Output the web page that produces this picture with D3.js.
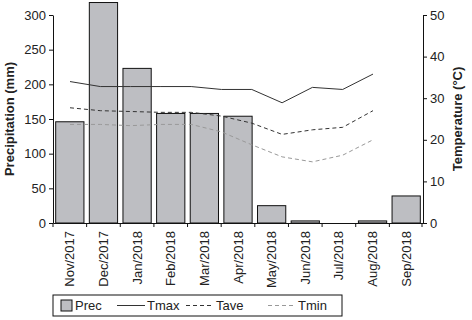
<!DOCTYPE html>
<html>
<head>
<meta charset="utf-8">
<script src="https://cdn.jsdelivr.net/npm/d3@7"></script>
<style>
    body { margin: 0; background: #fff; }
    text { font-family: "Liberation Sans Narrow", "Arial Narrow", "Liberation Sans", sans-serif; fill: #222; }
</style>
</head>
<body>
<div id="chart"></div>
<script>
// chart data
let months = ["Nov/2017", "Dec/2017", "Jan/2018", "Feb/2018", "Mar/2018", "Apr/2018",
    "May/2018", "Jun/2018", "Jul/2018", "Aug/2018", "Sep/2018"];
let prec = [146, 318, 223, 158, 158, 154, 25, 3, 0, 3, 39];
let tmax = [34.0, 32.8, 32.8, 32.8, 32.8, 32.1, 32.1, 28.9, 32.6, 32.1, 35.8];
let tave = [27.7, 27.0, 26.8, 26.6, 26.6, 25.7, 24.0, 21.3, 22.4, 23.0, 27.0];
let tmin = [23.7, 23.7, 23.4, 23.7, 23.7, 21.9, 18.8, 15.9, 14.7, 16.3, 20.0];
let precTicks = [0, 50, 100, 150, 200, 250, 300];
let tempTicks = [0, 10, 20, 30, 40, 50];

let width = 472, height = 320;
let plot = {left: 53, right: 423, top: 15, bottom: 223};

let svg = d3.select("#chart").append("svg")
    .attr("width", width)
    .attr("height", height);

// scales
let x = d3.scaleBand()
    .domain(months)
    .range([plot.left, plot.right])
    .paddingInner(0.16)
    .paddingOuter(0.08);

// temperature lines sit on their own (narrower) point scale
let xT = d3.scalePoint()
    .domain(months)
    .range([plot.left + 17, plot.left + 320]);

let yP = d3.scaleLinear().domain([0, 300]).range([plot.bottom, plot.top]);
let yT = d3.scaleLinear().domain([0, 50]).range([plot.bottom, plot.top]);

// bars
svg.selectAll(".bar")
    .data(months)
    .enter().append("rect")
    .attr("class", "bar")
    .attr("x", d => x(d))
    .attr("width", x.bandwidth())
    .attr("y", (d, i) => yP(prec[i]))
    .attr("height", (d, i) => plot.bottom - yP(prec[i]))
    .attr("fill", "#bdbec2")
    .attr("stroke", "#111")
    .attr("stroke-width", 1);

// lines
let series = [
    {name: "Tmax", values: tmax, color: "#333", dash: null},
    {name: "Tave", values: tave, color: "#333", dash: "4,3"},
    {name: "Tmin", values: tmin, color: "#999", dash: "4,3"}
];

let line = d3.line()
    .x((d, i) => xT(months[i]))
    .y(d => yT(d));

series.forEach(s => {
    svg.append("path")
        .datum(s.values)
        .attr("d", line)
        .attr("fill", "none")
        .attr("stroke", s.color)
        .attr("stroke-width", 1)
        .attr("stroke-dasharray", s.dash);
});

// left axis
let axisL = svg.append("g")
    .attr("transform", `translate(${plot.left},0)`)
    .call(d3.axisLeft(yP).tickValues(precTicks).tickSize(4).tickSizeOuter(0));

// right axis
let axisR = svg.append("g")
    .attr("transform", `translate(${plot.right},0)`)
    .call(d3.axisRight(yT).tickValues(tempTicks).tickSize(4).tickSizeOuter(0));

// bottom axis, labels at centres
let axisB = svg.append("g")
    .attr("transform", `translate(0,${plot.bottom})`)
    .call(d3.axisBottom(x).tickSize(0).tickSizeOuter(0));

axisB.selectAll("text")
    .attr("transform", "rotate(-90)")
    .attr("text-anchor", "end")
    .attr("x", -8)
    .attr("y", 0)
    .attr("dy", "0.35em");

// boundary ticks
let step = x.step();
let bounds = months.map(d => x(d) - x.paddingInner() * step / 2);
bounds.push(plot.right - 1);
svg.selectAll(".btick")
    .data(bounds)
    .enter().append("line")
    .attr("x1", d => d).attr("x2", d => d)
    .attr("y1", plot.bottom).attr("y2", plot.bottom + 4)
    .attr("stroke", "#111");

[axisL, axisR, axisB].forEach(a => {
    a.selectAll("path").attr("stroke", "#111");
    a.selectAll("line").attr("stroke", "#111");
    a.selectAll("text").style("font-size", "13px").attr("fill", "#222");
});

// axis titles
svg.append("text")
    .attr("transform", `translate(14, ${(plot.top + plot.bottom) / 2}) rotate(-90)`)
    .attr("text-anchor", "middle")
    .style("font-size", "13px")
    .style("font-weight", "bold")
    .text("Precipitation (mm)");

svg.append("text")
    .attr("transform", `translate(462, ${(plot.top + plot.bottom) / 2}) rotate(-90)`)
    .attr("text-anchor", "middle")
    .style("font-size", "13px")
    .style("font-weight", "bold")
    .text("Temperature (°C)");

// legend
let legend = svg.append("g").attr("transform", "translate(53,295)");
legend.append("rect")
    .attr("x", 0).attr("y", 0)
    .attr("width", 289).attr("height", 21)
    .attr("fill", "none").attr("stroke", "#111");

legend.append("rect")
    .attr("x", 8).attr("y", 5)
    .attr("width", 11).attr("height", 11)
    .attr("fill", "#bdbec2").attr("stroke", "#111");
legend.append("text").attr("x", 22).attr("y", 15).style("font-size", "13px").text("Prec");

let legX = [64, 133, 215];
series.forEach((s, i) => {
    legend.append("line")
        .attr("x1", legX[i]).attr("x2", legX[i] + 28)
        .attr("y1", 10.5).attr("y2", 10.5)
        .attr("stroke", s.color)
        .attr("stroke-dasharray", s.dash);
    legend.append("text")
        .attr("x", legX[i] + 30).attr("y", 15)
        .style("font-size", "13px")
        .text(s.name);
});
</script>
</body>
</html>
